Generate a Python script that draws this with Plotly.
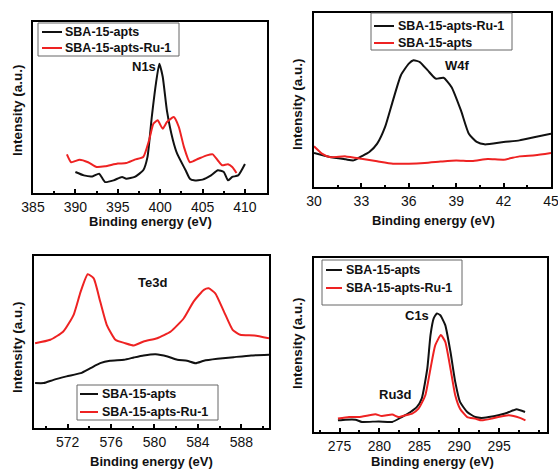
import plotly.graph_objects as go

# ---------------- data ----------------
# Panel (a) N1s
n1s_apts_x = [390, 391, 392, 392.8, 393.5, 394.5, 395.5, 396, 397, 398, 398.5, 399, 399.5, 399.9, 400.3, 400.8,
              401.5, 402, 403, 403.5, 404, 405, 406, 406.8, 407.5, 408, 408.5, 409.2, 410]
n1s_apts_y = [12.3, 10.3, 9.7, 11.3, 6.4, 7.4, 9.4, 8.4, 9.4, 13.3, 21, 44, 64, 75.6, 68, 48,
              31, 23, 13.3, 8.4, 7.4, 7.8, 10.3, 13.3, 12.3, 7.4, 9.4, 10.3, 17]
n1s_ru_x = [389, 389.5, 390.5, 391.5, 392.5, 393.5, 395, 396, 397, 398, 398.7, 399.2, 399.7, 400.3, 400.8,
            401.6, 402.2, 402.8, 403.5, 404.5, 405.5, 406.2, 406.8, 407.3, 408, 408.5, 409]
n1s_ru_y = [22.6, 18, 19.5, 18, 15.2, 15.6, 17.2, 17.5, 19.5, 21, 31, 40.5, 42.5, 37.6, 41.5,
            44.4, 38.6, 27, 18, 20, 22, 22.6, 19, 16.2, 16.8, 15.2, 11.7]

# Panel (b) W4f
w4f_ru_x = [30, 31, 32, 32.5, 33, 33.5, 34, 34.5, 35, 35.5, 36, 36.3, 36.7, 37.2, 37.7, 38.2, 38.7, 39.3,
            39.8, 40.3, 40.8, 42, 43, 44, 45]
w4f_ru_y = [19.5, 17.2, 15.9, 15.3, 17.6, 20.1, 24.9, 34.5, 49.8, 64.2, 70.9, 72.8, 71.8, 67, 62.3, 62.8, 57.5, 44,
            30.6, 25.9, 24.5, 25.9, 26.8, 28.7, 30.6]
w4f_apts_x = [30, 30.5, 31, 32, 33, 34, 35, 36, 37, 38, 39, 40, 41, 42, 43, 44, 45]
w4f_apts_y = [23.4, 19.2, 17.2, 17.6, 16.3, 14.8, 13.4, 13.4, 13.8, 14.6, 15.3, 14.9, 16.1, 15.7, 17.6, 18.2, 19.5]

# Panel (c) Te3d
te_ru_x = [569.0, 570.4, 571.6, 572.55, 573.2, 573.85, 574.4, 575.0, 575.6, 576.4, 577.3, 578.1, 579.0,
           580.25, 581.5, 582.7, 583.6, 584.55, 585.0, 585.6, 586.4, 587.2, 587.9, 589.2, 590.55]
te_ru_y = [49.3, 51.3, 56.1, 65.8, 79.3, 89.4, 87.0, 73.5, 60.0, 51.3, 49.3, 48.0, 50.3,
           52.2, 56.1, 63.8, 73.5, 80.3, 81.2, 78.3, 67.7, 57.1, 54.2, 53.8, 52.2]
te_apts_x = [569.0, 569.8, 570.7, 571.9, 573.2, 574.1, 575.0, 575.9, 577.2, 578.1, 579.0, 580.1, 581.2,
             582.1, 583.0, 583.8, 584.55, 585.8, 587.3, 588.9, 590.55]
te_apts_y = [26.1, 26.1, 28.0, 30.0, 31.9, 34.8, 37.7, 39.1, 39.7, 41.0, 42.2, 42.9, 41.6,
             39.7, 39.1, 37.7, 39.1, 40.2, 41.2, 42.2, 42.6]

# Panel (d) C1s / Ru3d
c1s_apts_x = [274.8, 275.75, 277.0, 277.8, 279.9, 281.6, 282.8, 283.9, 284.7, 285.3, 286.0, 286.4, 286.8,
              287.2, 287.6, 288.25, 288.9, 289.5, 290.1, 291.0, 292.0, 292.8, 293.7, 294.9, 295.75, 296.8,
              297.2, 298.25]
c1s_apts_y = [6.7, 7.1, 7.1, 5.8, 6.1, 5.8, 8.6, 11.5, 14.4, 19.2, 36.5, 55.7, 65.3,
              68.1, 67.2, 61.4, 46.1, 28.8, 17.3, 11.5, 8.6, 8.1, 8.6, 9.6, 10.6, 12.5,
              13.1, 11.5]
c1s_ru_x = [274.8, 276.2, 277.4, 278.7, 279.5, 280.3, 281.6, 282.4, 283.25, 284.1, 284.9, 285.75, 286.4,
            287.0, 287.7, 288.25, 288.9, 289.5, 290.1, 291.0, 292.0, 292.8, 294.1, 294.9, 296.2, 296.8,
            297.6, 298.3]
c1s_ru_y = [7.7, 8.6, 8.6, 9.6, 10.2, 9.2, 10.0, 8.6, 9.6, 10.6, 13.4, 21.1, 36.5,
            49.9, 55.7, 51.8, 36.5, 21.1, 13.4, 8.6, 7.7, 6.7, 7.7, 8.6, 9.6, 9.2,
            8.1, 6.7]

# tick labels of each panel
ticks_n1s = [385, 390, 395, 400, 405, 410]
ticks_w4f = [30, 33, 36, 39, 42, 45]
ticks_te = [572, 576, 580, 584, 588]
ticks_c1s = [275, 280, 285, 290, 295]

label_apts = "SBA-15-apts"
label_ru = "SBA-15-apts-Ru-1"
x_title = "Binding energy (eV)"
y_title = "Intensity (a.u.)"
peak_names = ["N1s", "W4f", "Te3d", "C1s", "Ru3d"]

# ---------------- figure ----------------
W, H = 558, 469
BLACK = "#111111"
RED = "#ee2222"
FONT = "Liberation Sans, Arial, sans-serif"

def fx(px):
    return px / W

def fy(py):
    return 1 - py / H

# panel boxes in pixels: (left, right, top, bottom)
boxes = {
    1: (33, 267, 22, 193),
    2: (314, 551, 13, 187),
    3: (34, 269, 256, 428),
    4: (314, 547, 258, 432),
}
xranges = {1: [385, 412.6], 2: [30, 45], 3: [568.9, 590.55], 4: [271.8, 301.0]}
xticks = {1: ticks_n1s, 2: ticks_w4f, 3: ticks_te, 4: ticks_c1s}
xtitle_pos = {1: (150, 222), 2: (433, 220), 3: (151, 461), 4: (432, 461)}
ytitle_pos = {1: (17, 110), 2: (297, 104), 3: (17, 347), 4: (297, 343)}

panel_series = {
    1: [(n1s_apts_x, n1s_apts_y, label_apts, BLACK), (n1s_ru_x, n1s_ru_y, label_ru, RED)],
    2: [(w4f_ru_x, w4f_ru_y, label_ru, BLACK), (w4f_apts_x, w4f_apts_y, label_apts, RED)],
    3: [(te_apts_x, te_apts_y, label_apts, BLACK), (te_ru_x, te_ru_y, label_ru, RED)],
    4: [(c1s_apts_x, c1s_apts_y, label_apts, BLACK), (c1s_ru_x, c1s_ru_y, label_ru, RED)],
}

# legend boxes: (left, right, top, bottom, entry y's, sample x0, sample x1, text x)
legend_geo = {
    1: (38, 179, 23, 56, (32, 48), 42, 62, 63),
    2: (371, 512, 13, 50, (26, 43), 374, 394, 396),
    3: (77, 218, 385, 420, (394, 412), 80, 98, 100),
    4: (322, 462, 260, 305, (270, 288), 326, 342, 344),
}

fig = go.Figure()
for p, series in panel_series.items():
    for x, y, name, color in series:
        fig.add_trace(go.Scatter(
            x=x, y=y, name=name, mode="lines", showlegend=False,
            line=dict(color=color, width=2, shape="spline", smoothing=0.5),
            xaxis="x" if p == 1 else f"x{p}",
            yaxis="y" if p == 1 else f"y{p}",
        ))

layout = dict(
    width=W, height=H,
    margin=dict(l=0, r=0, t=0, b=0, autoexpand=False),
    paper_bgcolor="white", plot_bgcolor="white",
    font=dict(family=FONT, color="#111111", size=13),
    showlegend=False,
)

annotations = []
shapes = []
for p, (l, r, t, b) in boxes.items():
    xa = "xaxis" if p == 1 else f"xaxis{p}"
    ya = "yaxis" if p == 1 else f"yaxis{p}"
    step = xticks[p][1] - xticks[p][0]
    layout[xa] = dict(
        domain=[fx(l), fx(r)], range=xranges[p], anchor="y" if p == 1 else f"y{p}",
        showline=True, linecolor="black", linewidth=2, mirror=True,
        ticks="inside", ticklen=4, tickwidth=1.5, tickcolor="black",
        tickmode="array", tickvals=xticks[p], ticktext=[str(v) for v in xticks[p]],
        ticklabeloverflow="allow",
        showgrid=False, zeroline=False,
        tickfont=dict(size=14, family=FONT, color="#111111"),
        minor=dict(ticks="inside", ticklen=2, tickcolor="black", tick0=xticks[p][0], dtick=step / 2,
                   showgrid=False),
    )
    layout[ya] = dict(
        domain=[fy(b), fy(t)], range=[0, 100], anchor="x" if p == 1 else f"x{p}",
        showline=True, linecolor="black", linewidth=2, mirror=True,
        showticklabels=False, ticks="", showgrid=False, zeroline=False,
    )
    tx, ty = xtitle_pos[p]
    annotations.append(dict(
        x=fx(tx), y=fy(ty), xref="paper", yref="paper", xanchor="center", yanchor="middle",
        text=f"<b>{x_title}</b>", showarrow=False, font=dict(size=13, family=FONT, color="#111111"),
    ))
    yx, yy = ytitle_pos[p]
    annotations.append(dict(
        x=fx(yx), y=fy(yy), xref="paper", yref="paper", xanchor="center", yanchor="middle",
        text=f"<b>{y_title}</b>", showarrow=False, textangle=-90,
        font=dict(size=13.5, family=FONT, color="#111111"),
    ))

    # legend drawn as a framed box with line samples and labels
    ll, lr, lt, lb, ys, sx0, sx1, tx0 = legend_geo[p]
    shapes.append(dict(type="rect", xref="paper", yref="paper",
                       x0=fx(ll), x1=fx(lr), y0=fy(lb), y1=fy(lt),
                       line=dict(color="#666666", width=1), fillcolor="white", layer="above"))
    for (x, y, name, color), ey in zip(panel_series[p], ys):
        shapes.append(dict(type="line", xref="paper", yref="paper",
                           x0=fx(sx0), x1=fx(sx1), y0=fy(ey), y1=fy(ey),
                           line=dict(color=color, width=2), layer="above"))
        annotations.append(dict(
            x=fx(tx0), y=fy(ey), xref="paper", yref="paper", xanchor="left", yanchor="middle",
            text=f"<b>{name}</b>", showarrow=False, font=dict(size=12.5, family=FONT, color="#111111"),
        ))

peak_pos = [(144, 67), (457, 65), (152, 282), (417, 315), (395, 394)]
for txt, (px, py) in zip(peak_names, peak_pos):
    annotations.append(dict(
        x=fx(px), y=fy(py), xref="paper", yref="paper", text=f"<b>{txt}</b>",
        xanchor="center", yanchor="middle",
        showarrow=False, font=dict(size=13, family=FONT, color="#111111"),
    ))

layout["annotations"] = annotations
layout["shapes"] = shapes
fig.update_layout(**layout)
fig.write_html("out.html", config={"displayModeBar": False},
               post_script="document.body.style.margin='0';")
